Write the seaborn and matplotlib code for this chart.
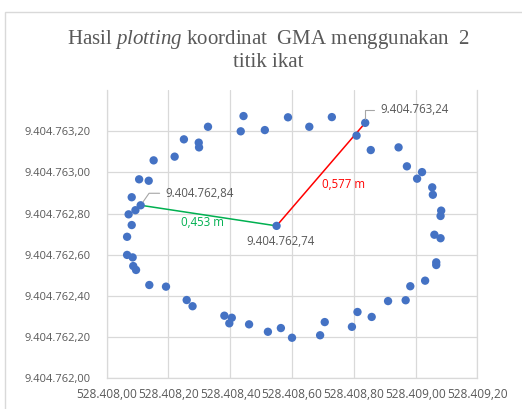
# Data Handling & Computation
import pandas as pd
import numpy as np

# Visualization Libraries
import matplotlib
matplotlib.use("Agg")
import matplotlib.pyplot as plt
import matplotlib as mpl
import seaborn as sns
from matplotlib.ticker import FuncFormatter
from matplotlib.patches import Rectangle

# ==============================
# Data
# ==============================

# GMA plotted coordinates (X = easting, Y = northing)
gma_x = [
    528408.443, 528408.328, 528408.434, 528408.250, 528408.298, 528408.299,
    528408.152, 528408.220, 528408.105, 528408.136, 528408.081, 528408.110,
    528408.093, 528408.071, 528408.081, 528408.066, 528408.512, 528408.587,
    528408.656, 528408.729, 528408.837, 528408.809, 528408.855, 528408.945,
    528408.972, 528409.021, 528409.005, 528409.054, 528409.056, 528409.083,
    528409.081, 528409.061, 528409.081, 528408.550, 528408.066, 528408.084,
    528408.086, 528408.095, 528408.138, 528408.192, 528408.259, 528408.278,
    528408.381, 528408.405, 528408.397, 528408.461, 528408.522, 528408.564,
    528408.600, 528408.691, 528408.706, 528408.794, 528408.812, 528408.858,
    528408.911, 528408.968, 528408.983, 528409.031, 528409.067, 528409.067,
]
gma_y = [
    9404763.273, 9404763.221, 9404763.199, 9404763.160, 9404763.144, 9404763.121,
    9404763.058, 9404763.076, 9404762.966, 9404762.959, 9404762.879, 9404762.840,
    9404762.816, 9404762.796, 9404762.744, 9404762.687, 9404763.205, 9404763.267,
    9404763.221, 9404763.268, 9404763.240, 9404763.178, 9404763.108, 9404763.121,
    9404763.029, 9404763.001, 9404762.969, 9404762.927, 9404762.891, 9404762.814,
    9404762.788, 9404762.697, 9404762.680, 9404762.740, 9404762.599, 9404762.587,
    9404762.545, 9404762.526, 9404762.453, 9404762.445, 9404762.380, 9404762.350,
    9404762.304, 9404762.294, 9404762.267, 9404762.262, 9404762.226, 9404762.244,
    9404762.197, 9404762.209, 9404762.273, 9404762.250, 9404762.322, 9404762.298,
    9404762.375, 9404762.379, 9404762.447, 9404762.474, 9404762.563, 9404762.550,
]

# Labelled points: left tie point, centre, right tie point
label_x = [528408.110, 528408.550, 528408.837]
label_y = [9404762.840, 9404762.740, 9404763.240]
label_text = ["9.404.762,84", "9.404.762,74", "9.404.763,24"]

# Distances drawn between the points
dist_text = ["0,453 m", "0,577 m"]

# Axis ticks
x_ticks = [528408.00, 528408.20, 528408.40, 528408.60, 528408.80, 528409.00, 528409.20]
y_ticks = [9404762.00, 9404762.20, 9404762.40, 9404762.60, 9404762.80, 9404763.00, 9404763.20]

df = pd.DataFrame({"x": gma_x, "y": gma_y})

# ==============================
# Plot Styling & Customization
# ==============================

sns.set_style("white")
mpl.rcParams.update({
    'font.family': 'Open Sans',
    'mathtext.fontset': 'custom',
    'mathtext.rm': 'Liberation Serif',
    'mathtext.it': 'Liberation Serif:italic',
})

grey_text = "#595959"
grid_color = "#D9D9D9"
dot_color = "#4472C4"
green = "#00B050"
red = "#FF0000"


def euro_fmt(v, pos):
    # 9,404,762.00 -> 9.404.762,00
    s = f"{v:,.2f}"
    return s.replace(",", "X").replace(".", ",").replace("X", ".")


# ==============================
# Figure
# ==============================

fig = plt.figure(figsize=(5.22, 4.09), dpi=100)
ax = fig.add_axes([0.2044, 0.075, 0.7100, 0.7052])

# chart-area border
fig.patches.append(Rectangle((5 / 522, -0.01), 1.0, 1 - 12 / 409 + 0.01,
                             transform=fig.transFigure, fill=False,
                             edgecolor=grid_color, linewidth=1.0))

# connecting lines
ax.plot([label_x[0], label_x[1]], [label_y[0], label_y[1]], color=green, lw=1.1, zorder=2)
ax.plot([label_x[1], label_x[2]], [label_y[1], label_y[2]], color=red, lw=1.1, zorder=2)

sns.scatterplot(data=df, x="x", y="y", ax=ax, color=dot_color, s=36,
                edgecolor="none", zorder=3, legend=False)

ax.set_xlim(528408.00, 528409.20)
ax.set_ylim(9404762.00, 9404763.40)
ax.set_xticks(x_ticks)
ax.set_yticks(y_ticks)
ax.xaxis.set_major_formatter(FuncFormatter(euro_fmt))
ax.yaxis.set_major_formatter(FuncFormatter(euro_fmt))
ax.tick_params(length=0, labelcolor=grey_text)
ax.tick_params(axis="y", pad=11.5, labelsize=8.0)
ax.tick_params(axis="x", pad=7, labelsize=8.6)
ax.set_xlabel("")
ax.set_ylabel("")
ax.grid(True, color=grid_color, lw=0.9)
ax.set_axisbelow(True)
for side in ["left", "bottom", "right"]:
    ax.spines[side].set_color(grid_color)
    ax.spines[side].set_linewidth(0.9)
ax.spines["top"].set_visible(False)

# data labels with leader lines
leader = dict(arrowstyle="-", color="#A6A6A6", lw=0.8, shrinkA=2, shrinkB=3)
ax.annotate(label_text[0], xy=(label_x[0], label_y[0]), xytext=(25, 12),
            textcoords="offset pixels", ha="left", va="center", fontsize=8.3,
            color=grey_text,
            arrowprops=dict(leader, relpos=(0, 0.5),
                            connectionstyle="angle,angleA=0,angleB=55,rad=0"))
ax.annotate(label_text[2], xy=(label_x[2], label_y[2]), xytext=(15, 13),
            textcoords="offset pixels", ha="left", va="center", fontsize=8.3,
            color=grey_text,
            arrowprops=dict(leader, relpos=(0, 0.5),
                            connectionstyle="angle,angleA=0,angleB=90,rad=0"))
ax.annotate(label_text[1], xy=(label_x[1], label_y[1]), xytext=(4, -16),
            textcoords="offset pixels", ha="center", va="center", fontsize=8.3,
            color=grey_text)

# distance labels near the middle of each line
mid_g = ((label_x[0] + label_x[1]) / 2, (label_y[0] + label_y[1]) / 2)
mid_r = ((label_x[1] + label_x[2]) / 2, (label_y[1] + label_y[2]) / 2)
ax.annotate(dist_text[0], xy=mid_g, xytext=(-6, -7), textcoords="offset pixels",
            ha="center", va="center", fontsize=8.3, color=green)
ax.annotate(dist_text[1], xy=mid_r, xytext=(23, -10), textcoords="offset pixels",
            ha="center", va="center", fontsize=8.3, color=red)

fig.text(268 / 522, 1 - 50 / 409,
         "Hasil $\\mathit{plotting}$ koordinat  GMA menggunakan  2\ntitik ikat",
         ha="center", va="center", fontsize=15, color=grey_text,
         family="Liberation Serif", linespacing=1.1)

fig.savefig("out.png", dpi=100)
